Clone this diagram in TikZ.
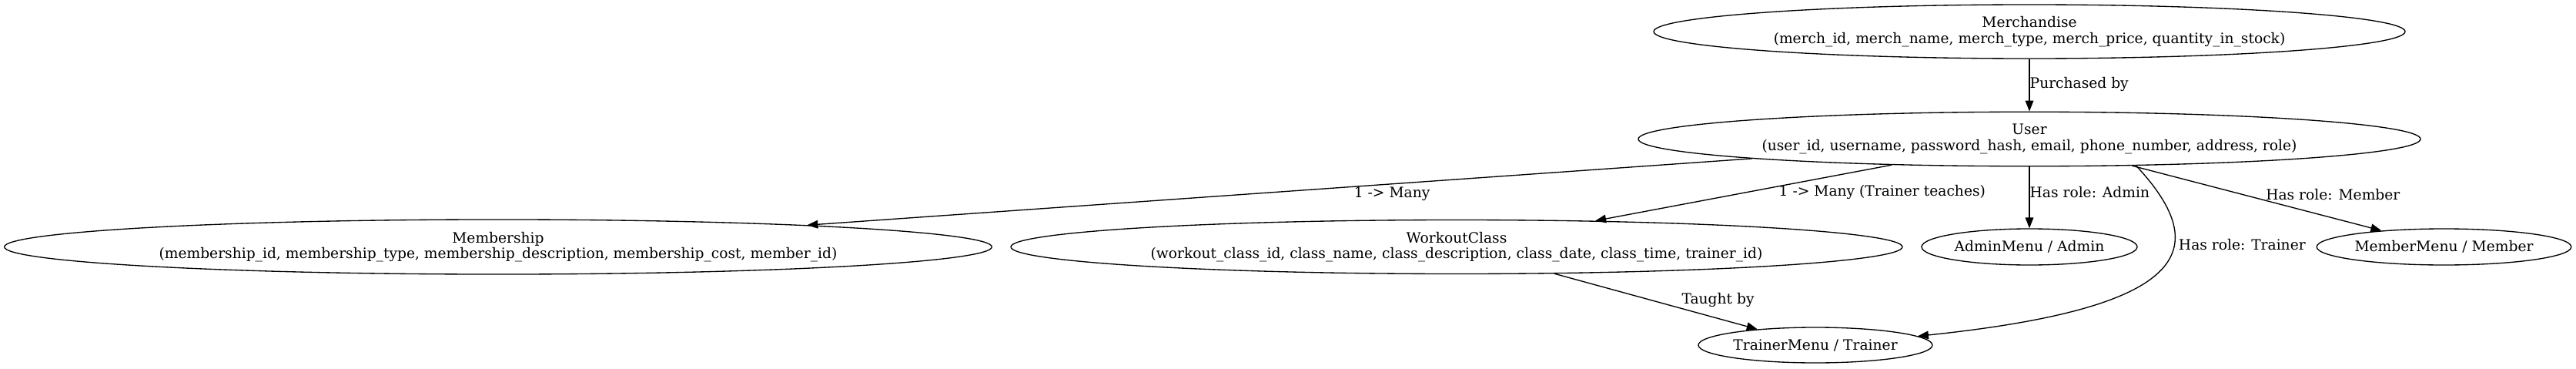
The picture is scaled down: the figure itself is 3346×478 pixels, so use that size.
\documentclass[tikz,border=0pt]{standalone}
\usepackage{fontspec}
\setmainfont{DejaVu Serif}
\usetikzlibrary{shapes.geometric,arrows.meta}

\begin{document}
\begin{tikzpicture}[x=0.75pt,y=-0.75pt,
		entity/.style={draw,ellipse,line width=1pt,inner sep=0pt,align=center,font=\fontsize{14pt}{15.5pt}\selectfont},
		rel/.style={line width=1pt,-{Triangle[length=10.5pt,width=8pt]}},
		lbl/.style={inner sep=0pt,font=\fontsize{14pt}{15.5pt}\selectfont}]
			\useasboundingbox (0,0) rectangle (3346,478);
			\node[entity,minimum width=732pt,minimum height=52.5pt] (merch) at (2636,41) {Merchandise\\(merch\_id, merch\_name, merch\_type, merch\_price, quantity\_in\_stock)};
			\node[entity,minimum width=762pt,minimum height=52.9pt] (user) at (2636,180.5) {User\\(user\_id, username, password\_hash, email, phone\_number, address, role)};
			\node[entity,minimum width=962pt,minimum height=53.3pt] (membership) at (647,320.5) {Membership\\(membership\_id, membership\_type, membership\_description, membership\_cost, member\_id)};
			\node[entity,minimum width=868.5pt,minimum height=52.5pt] (workout) at (1892,320.5) {WorkoutClass\\(workout\_class\_id, class\_name, class\_description, class\_date, class\_time, trainer\_id)};
			\node[entity,minimum width=210pt,minimum height=35.25pt] (admin) at (2636,320.5) {AdminMenu / Admin};
			\node[entity,minimum width=248pt,minimum height=35.25pt] (member) at (3174.5,320.5) {MemberMenu / Member};
			\node[entity,minimum width=228pt,minimum height=34.5pt] (trainer) at (2358,448) {TrainerMenu / Trainer};
			\draw[rel] (merch) -- (user) node[lbl,pos=0.49,anchor=west] {Purchased by};
			\draw[rel] (user) -- (membership) node[lbl,pos=0.381,yshift=-9.75pt] {1 -> Many};
			\draw[rel] (user) -- (workout) node[lbl,pos=0.493,anchor=west,xshift=32pt] {1 -> Many (Trainer teaches)};
			\draw[rel] (user) -- (admin) node[lbl,pos=0.42,anchor=west] {Has role: Admin};
			\draw[rel] (user) -- (member) node[lbl,pos=0.44,anchor=west,xshift=23pt] {Has role: Member};
			\draw[rel] (user.-14.4) .. controls (2878,326) and (2840,400) .. (trainer.5) node[lbl,pos=0.35,anchor=west,xshift=4pt] {Has role: Trainer};
			\draw[rel] (workout) -- (trainer) node[lbl,pos=0.473,anchor=west,xshift=30pt] {Taught by};
		\end{tikzpicture}
\end{document}
